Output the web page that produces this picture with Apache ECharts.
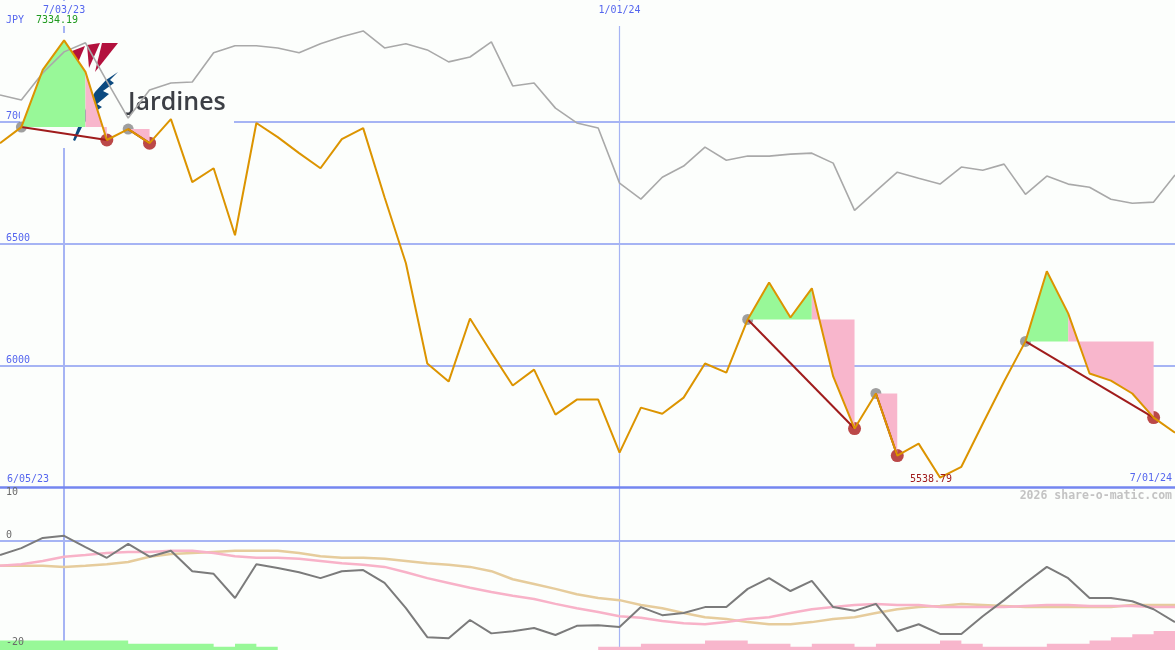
<!DOCTYPE html>
<html><head><meta charset="utf-8">
<script src="https://cdn.jsdelivr.net/npm/echarts@6/dist/echarts.min.js"></script>
<style>html,body{margin:0;padding:0;background:#fcfefc}#c{width:1175px;height:650px}</style>
</head><body><div id="c"></div><script>
// ---- data ----
const dates = ['6/12/23','6/19/23','6/26/23','7/03/23','7/10/23','7/17/23','7/24/23','7/31/23','8/07/23','8/14/23',
 '8/21/23','8/28/23','9/04/23','9/11/23','9/18/23','9/25/23','10/02/23','10/09/23','10/16/23','10/23/23',
 '10/30/23','11/06/23','11/13/23','11/20/23','11/27/23','12/04/23','12/11/23','12/18/23','12/25/23','1/01/24',
 '1/08/24','1/15/24','1/22/24','1/29/24','2/05/24','2/12/24','2/19/24','2/26/24','3/04/24','3/11/24',
 '3/18/24','3/25/24','4/01/24','4/08/24','4/15/24','4/22/24','4/29/24','5/06/24','5/13/24','5/20/24',
 '5/27/24','6/03/24','6/10/24','6/17/24','6/24/24','7/01/24'];
const price = [6912,6978,7213,7334.19,7205,6925,6970,6912,7011,6752,
 6809,6534,6995,6937,6871,6809,6929,6974,6690,6419,
 6007,5933,6192,6052,5917,5982,5797,5859,5859,5641,
 5826,5801,5867,6007,5970,6188,6340,6196,6316,5954,
 5740,5884,5629,5678,5538.79,5583,5760,5933,6098,6386,
 6213,5966,5937,5884,5785,5723];
const compare = [7110,7089,7200,7287,7324,7167,7015,7130,7159,7163,
 7283,7312,7312,7303,7283,7320,7349,7373,7303,7320,
 7295,7246,7266,7328,7147,7159,7056,6995,6974,6748,
 6682,6772,6818,6896,6842,6859,6859,6867,6871,6830,
 6636,6715,6793,6768,6744,6814,6801,6826,6702,6777,
 6744,6731,6682,6665,6670,6781];
const momentum = [-2.7,-1.4,0.5,0.9,-1.2,-3.2,-0.6,-3.0,-1.9,-5.7,
 -6.2,-10.7,-4.4,-5.1,-5.9,-7.0,-5.7,-5.5,-7.9,-12.6,
 -18.0,-18.2,-14.8,-17.3,-16.9,-16.3,-17.6,-15.9,-15.8,-16.1,
 -12.4,-13.9,-13.5,-12.4,-12.4,-9.0,-7.0,-9.4,-7.5,-12.4,
 -13.1,-11.8,-16.9,-15.6,-17.4,-17.4,-14.1,-11.1,-7.9,-4.9,
 -7.0,-10.7,-10.7,-11.3,-12.8,-15.2];
const avgPink = [-4.7,-4.4,-3.8,-3.0,-2.7,-2.3,-2.1,-2.1,-1.9,-1.9,
 -2.3,-2.9,-3.2,-3.2,-3.4,-3.8,-4.2,-4.5,-4.9,-5.9,
 -7.0,-7.9,-8.8,-9.6,-10.3,-10.9,-11.8,-12.6,-13.3,-14.1,
 -14.4,-15.0,-15.4,-15.6,-15.2,-14.6,-14.3,-13.5,-12.8,-12.4,
 -12.0,-11.8,-12.0,-12.0,-12.4,-12.4,-12.4,-12.4,-12.2,-12.0,
 -12.0,-12.2,-12.2,-12.2,-12.4,-12.4];
const avgTan = [-4.7,-4.7,-4.7,-4.9,-4.7,-4.4,-4.0,-3.0,-2.5,-2.3,
 -2.1,-1.9,-1.9,-1.9,-2.3,-2.9,-3.2,-3.2,-3.4,-3.8,
 -4.2,-4.5,-4.9,-5.7,-7.2,-8.1,-9.0,-10.0,-10.7,-11.1,
 -12.0,-12.6,-13.5,-14.3,-14.6,-15.2,-15.6,-15.6,-15.2,-14.6,
 -14.3,-13.5,-12.8,-12.4,-12.2,-11.8,-12.0,-12.2,-12.4,-12.4,
 -12.4,-12.4,-12.4,-12.0,-12.0,-12.0];
const upBars = [3,3,3,3,3,3,2,2,2,2,1,2,1,0,null,null,null,null,null,null,
 null,null,null,null,null,null,null,null,null,null,null,null,null,null,null,null,null,null,null,null,
 null,null,null,null,null,null,null,null,null,null,null,null,null,null,null,null];
const downBars = [null,null,null,null,null,null,null,null,null,null,null,null,null,null,null,null,null,null,null,null,
 null,null,null,null,null,null,null,null,1,1,
 2,2,2,3,3,2,2,1,2,2,
 1,2,2,2,3,2,1,1,1,2,
 2,3,4,5,6,6];
const patStart = [1, 6, 35, 41, 48];
const patTurn  = [4, 6, 38, 41, 50];
const patEnd   = [5, 7, 40, 42, 54];
const mainTicks = [6000, 6500, 7000];
const lowerZeroTick = [0];
const lowerBottomTick = [-20];
const lowerTopTick = [10];
const topDateIdx = [3, 29];
const startLabel = '6/05/23';
const currency = 'JPY';
const company = 'Jardines';

// ---- style ----
const BG = '#fcfefc';
const BLUE_TXT = '#5566ee';
const GRIDC = '#a6b4f4';
const MONO = '"DejaVu Sans Mono", monospace';
const GREEN = '#98f898';
const PINK = '#f8b6cc';

const chart = echarts.init(document.getElementById('c'), null, {renderer: 'canvas', width: 1175, height: 650});

const hidden = {axisLabel: {show: false}, axisTick: {show: false}, axisLine: {show: false}};
function catAxis(grid, extra) {
  return Object.assign({type: 'category', data: dates, boundaryGap: false, gridIndex: grid,
    axisLabel: {show: false}, axisTick: {show: false}, axisLine: {show: false, onZero: false}, splitLine: {show: false}}, extra);
}
const plain = v => String(v);
const seg = (a, b) => price.map((v, i) => (i >= a && i <= b) ? v : null);
const series = [];
series.push({type: 'line', xAxisIndex: 1, yAxisIndex: 0, data: compare, symbol: 'none', silent: true,
  lineStyle: {color: '#a9a9a9', width: 1.6}});
patStart.forEach((s, k) => {
  const t = patTurn[k], e = patEnd[k], level = price[s];
  const mk = (d, c) => ({type: 'line', xAxisIndex: 1, yAxisIndex: 0, data: d, symbol: 'none', silent: true,
    lineStyle: {width: 0}, areaStyle: {color: c, opacity: 1, origin: level}});
  if (t > s) series.push(mk(seg(s, t), GREEN));
  series.push(mk(seg(t, e), PINK));
});
patStart.forEach((s, k) => {
  const e = patEnd[k];
  series.push({type: 'line', xAxisIndex: 1, yAxisIndex: 0, connectNulls: true, symbol: 'none', silent: true,
    data: price.map((v, i) => (i === s || i === e) ? v : null), lineStyle: {color: '#a01c1c', width: 2}});
});
series.push({type: 'scatter', xAxisIndex: 1, yAxisIndex: 0, symbolSize: 11, silent: true,
  itemStyle: {color: '#878787'}, data: patStart.map(s => [s, price[s]])});
series.push({type: 'scatter', xAxisIndex: 1, yAxisIndex: 0, symbolSize: 13, silent: true,
  itemStyle: {color: '#aa1a1a'}, data: patEnd.map(e => [e, price[e]])});
series.push({type: 'line', xAxisIndex: 1, yAxisIndex: 0, data: price, symbol: 'none', silent: true,
  lineStyle: {color: '#dc9400', width: 2},
  markPoint: {symbol: 'circle', symbolSize: 1, itemStyle: {color: 'rgba(0,0,0,0)'}, silent: true,
    data: [{type: 'min'}],
    label: {show: true, position: 'inside', offset: [-9, 2], color: '#a01c1c', fontFamily: MONO, fontSize: 10,
      formatter: p => p.value.toFixed(2)}}});
// lower panel
series.push({type: 'line', xAxisIndex: 3, yAxisIndex: 3, data: upBars, step: 'end', symbol: 'none', silent: true,
  lineStyle: {width: 0}, areaStyle: {color: GREEN, opacity: 1, origin: 'start'}});
series.push({type: 'line', xAxisIndex: 3, yAxisIndex: 3, data: downBars, step: 'end', symbol: 'none', silent: true,
  lineStyle: {width: 0}, areaStyle: {color: PINK, opacity: 1, origin: 'start'}});
series.push({type: 'line', xAxisIndex: 3, yAxisIndex: 1, data: avgTan, symbol: 'none', silent: true,
  lineStyle: {color: '#e6cc9c', width: 2.5}});
series.push({type: 'line', xAxisIndex: 3, yAxisIndex: 1, data: avgPink, symbol: 'none', silent: true,
  lineStyle: {color: '#f8b2c8', width: 2.5}});
series.push({type: 'line', xAxisIndex: 3, yAxisIndex: 1, data: momentum, symbol: 'none', silent: true,
  lineStyle: {color: '#7b7b7b', width: 2}});

const maxVal = Math.max.apply(null, price);
function lowerLabelAxis(vals, va, z) {
  return {type: 'value', gridIndex: 1, position: 'left', offset: 0, min: -20.4, max: 10, z: z, axisLine: {show: false},
    axisTick: {show: false, customValues: vals},
    axisLabel: {inside: true, margin: 6, verticalAlign: va, customValues: vals, formatter: plain,
      color: '#6a6a6a', fontFamily: MONO, fontSize: 10},
    splitLine: {show: false}};
}

chart.setOption({
  animation: false,
  backgroundColor: BG,
  grid: [
    {left: 0, right: 0, top: 0, height: 487, outerBoundsMode: 'none', containLabel: false},
    {left: 0, right: 0, top: 487, bottom: 0, outerBoundsMode: 'none', containLabel: false}
  ],
  xAxis: [
    catAxis(0, {position: 'top', z: 5, axisLabel: {show: true, inside: true, margin: 1,
      interval: (i) => topDateIdx.indexOf(i) >= 0, color: BLUE_TXT, fontFamily: MONO, fontSize: 10,
      backgroundColor: BG, padding: [4, 2, 11, 2]}}),
    catAxis(0, {splitLine: {show: true, interval: (i) => i === topDateIdx[0], lineStyle: {color: GRIDC, width: 2}}}),
    catAxis(0, {splitLine: {show: true, interval: (i) => i === topDateIdx[1], lineStyle: {color: GRIDC, width: 1.2}}}),
    catAxis(1, {position: 'top', z: 3, axisLine: {show: true, onZero: false, lineStyle: {color: '#7486f0', width: 2.5}},
      splitLine: {show: true, interval: (i) => i === topDateIdx[0], lineStyle: {color: GRIDC, width: 2}}}),
    catAxis(1, {splitLine: {show: true, interval: (i) => i === topDateIdx[1], lineStyle: {color: GRIDC, width: 1.2}}}),
    catAxis(0, {position: 'bottom', z: 5, axisLabel: {show: true, inside: true, margin: 4, align: 'right',
      padding: [0, 3, 0, 0],
      interval: (i) => i === dates.length - 1, color: BLUE_TXT, fontFamily: MONO, fontSize: 10}})
  ],
  yAxis: [
    {type: 'value', gridIndex: 0, position: 'left', min: 5500, max: 7500, axisLine: {show: false},
      axisTick: {show: false, customValues: mainTicks},
      axisLabel: {inside: true, margin: 6, verticalAlign: 'bottom', customValues: mainTicks, formatter: plain,
        color: BLUE_TXT, fontFamily: MONO, fontSize: 10},
      splitLine: {show: true, lineStyle: {color: GRIDC, width: 2}}},
    {type: 'value', gridIndex: 1, position: 'left', min: -20.4, max: 10, axisLine: {show: false},
      axisTick: {show: false, customValues: lowerZeroTick},
      axisLabel: {inside: true, margin: 6, verticalAlign: 'bottom', customValues: lowerZeroTick, formatter: plain,
        color: '#6a6a6a', fontFamily: MONO, fontSize: 10},
      splitLine: {show: true, lineStyle: {color: GRIDC, width: 2}}},
    lowerLabelAxis(lowerTopTick, 'top', 5),
    Object.assign({type: 'value', gridIndex: 1, position: 'right', min: 0, max: 51.4, splitLine: {show: false}}, hidden),
    lowerLabelAxis(lowerBottomTick, 'bottom', 5)
  ],
  graphic: [
    {type: 'rect', z: 1, shape: {x: 20, y: 33, width: 214, height: 115}, style: {fill: BG}, silent: true},
    {type: 'polygon', z: 1, shape: {points: [[72,51],[85,46],[77,65]]}, style: {fill: '#b3113d'}, silent: true},
    {type: 'polygon', z: 1, shape: {points: [[87,45],[100,43],[89,68]]}, style: {fill: '#b3113d'}, silent: true},
    {type: 'polygon', z: 1, shape: {points: [[102,43],[118,43],[95,72]]}, style: {fill: '#b3113d'}, silent: true},
    {type: 'polygon', z: 1, shape: {points: [[118,72],[110,80],[114,83],[103,91],[109,94],[97,104],[102,107],[90,115],[82,127],[75,141],[73,140],[80,122],[87,106],[95,92],[106,80]]},
      style: {fill: '#0c4a80'}, silent: true},
    {type: 'text', z: 1, silent: true, style: {text: company, x: 128, y: 103, align: 'left', verticalAlign: 'middle',
      font: '600 25px "Open Sans"', fill: '#3c3f45'}},
    {type: 'text', z: 10, silent: true, style: {text: currency, x: 6, y: 20, verticalAlign: 'middle', font: '10px ' + MONO, fill: BLUE_TXT}},
    {type: 'text', z: 10, silent: true, style: {text: maxVal.toFixed(2), x: 36, y: 20, verticalAlign: 'middle', font: '10px ' + MONO, fill: '#1f9a1f'}},
    {type: 'text', z: 10, silent: true, style: {text: startLabel, x: 7, y: 479, verticalAlign: 'middle', font: '10px ' + MONO, fill: BLUE_TXT}},
    {type: 'text', z: 10, silent: true, style: {text: '2026 share-o-matic.com', x: 1172, y: 496, align: 'right', verticalAlign: 'middle',
      font: 'bold 11.5px ' + MONO, fill: '#c3c3c3'}}
  ],
  series: series
});
</script></body></html>
